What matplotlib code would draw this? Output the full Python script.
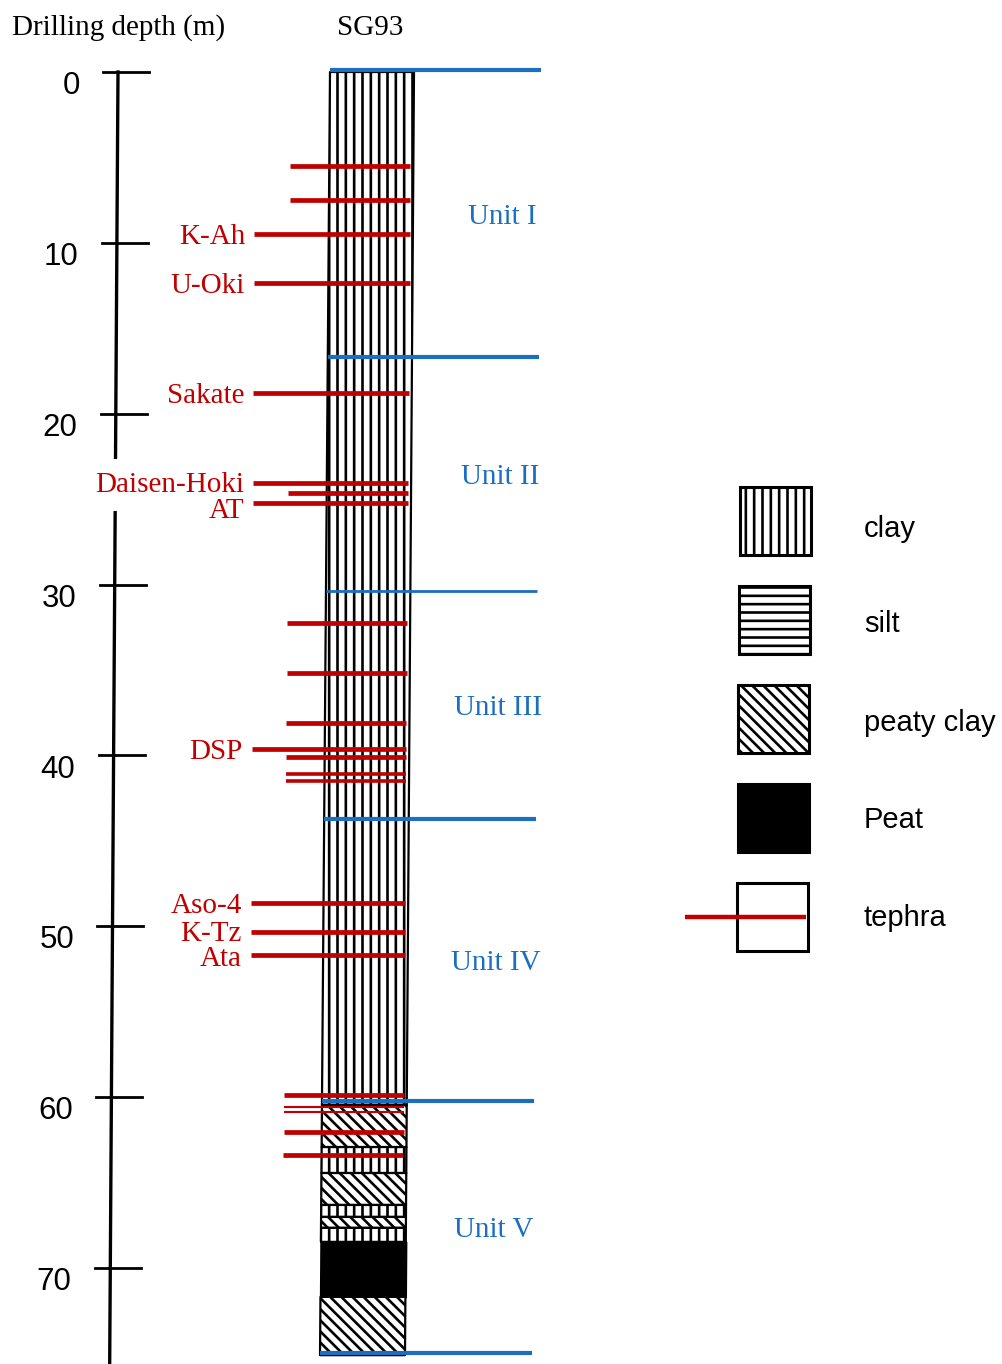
import matplotlib
matplotlib.use("Agg")
import matplotlib.pyplot as plt
from matplotlib.patches import Rectangle

# ---------------- data ----------------
depth_ticks = [0, 10, 20, 30, 40, 50, 60, 70]

lith_top = [0.0, 60.45, 62.92, 64.44, 66.31, 67.01, 67.65, 68.47, 71.69]
lith_bottom = [60.45, 62.92, 64.44, 66.31, 67.01, 67.65, 68.47, 71.69, 75.1]
lith_type = ["clay", "peaty clay", "clay", "peaty clay", "clay",
             "peaty clay", "clay", "peat", "peaty clay"]

tephra_depth = [5.50, 7.49, 9.48, 12.35, 18.79, 24.05, 24.64, 25.23, 32.25,
                35.18, 38.09, 39.61, 40.09, 41.08, 41.50, 48.64, 50.33, 51.68,
                59.87, 60.58, 60.87, 62.04, 63.39]
tephra_label = ["", "", "K-Ah", "U-Oki", "Sakate", "Daisen-Hoki", "", "AT", "",
                "", "", "DSP", "", "", "", "Aso-4", "K-Tz", "Ata",
                "", "", "", "", ""]
tephra_thin = [41.08, 41.50]
tephra_thinner = [60.58, 60.87]

unit_bounds = [-0.1, 16.7, 30.4, 43.7, 60.2, 74.97]
unit_names = ["Unit I", "Unit II", "Unit III", "Unit IV", "Unit V"]

legend_names = ["clay", "silt", "peaty clay", "Peat", "tephra"]

# ---------------- style ----------------
W, H = 1002, 1364
PX_PER_M = 17.086
Y0 = 72.0
RED = "#c00000"
BLUE = "#1a6fc0"
SERIF = ["Liberation Serif", "DejaVu Serif"]
SANS = ["Liberation Sans", "DejaVu Sans"]
FS = 21
TXT_DY = 3.0 / PX_PER_M   # small baseline correction for serif labels

plt.rcParams["hatch.linewidth"] = 1.9
plt.rcParams["hatch.color"] = "black"

HATCH = {"clay": "||", "silt": "--", "peaty clay": "\\\\\\", "peat": None}
FILL = {"clay": "white", "silt": "white", "peaty clay": "white", "peat": "black"}
LABEL_DY = {"Daisen-Hoki": -1.0, "AT": 4.5, "K-Tz": -1.0, "Ata": 1.0}


def left_x(d):
    return 330 - 0.133 * d


def right_x(d):
    return 414 - 0.12 * d


def axis_x(d):
    return 118 - 0.11 * d


fig = plt.figure(figsize=(W / 100, H / 100), dpi=100)
ax = fig.add_axes([0, 0, 1, 1])
ax.set_xlim(0, W)
ax.set_ylim((H - Y0) / PX_PER_M, -Y0 / PX_PER_M)
ax.axis("off")

# pixel overlay for header / legend
axp = fig.add_axes([0, 0, 1, 1])
axp.set_xlim(0, W)
axp.set_ylim(H, 0)
axp.axis("off")
axp.patch.set_alpha(0)

# ---------------- depth axis ----------------
y_end = (H - Y0) / PX_PER_M
ax.plot([axis_x(0), axis_x(y_end)], [0, y_end], color="black", lw=2.4, zorder=1)
for t in depth_ticks:
    ax.plot([axis_x(t) - 15, axis_x(t) + 31], [t, t], color="black", lw=2.0, zorder=1)
    ax.text(80 - 0.12 * t, t - 0.05, str(t), ha="right", va="top",
            fontsize=22.5, family=SANS, color="black")

# ---------------- column ----------------
for top, bot, kind in zip(lith_top, lith_bottom, lith_type):
    ax.fill_betweenx([top, bot], [left_x(top), left_x(bot)],
                     [right_x(top), right_x(bot)],
                     facecolor=FILL[kind], edgecolor="black",
                     hatch=HATCH[kind], linewidth=1.6, zorder=2)

# ---------------- unit boundaries ----------------
for i, b in enumerate(unit_bounds):
    lw = 2.0 if i == 2 else 3.0
    ax.plot([left_x(b), 541 - 0.12 * b], [b, b], color=BLUE, lw=lw,
            solid_capstyle="butt", zorder=5)
for i, name in enumerate(unit_names):
    mid = (unit_bounds[i] + unit_bounds[i + 1]) / 2
    ax.text(503 - 0.14 * mid, mid + TXT_DY, name, ha="center", va="center",
            fontsize=FS, family=SERIF, color=BLUE)

# ---------------- tephra ----------------
for d, lab in zip(tephra_depth, tephra_label):
    if d in tephra_thinner:
        lw = 1.5
    elif d in tephra_thin:
        lw = 2.6
    else:
        lw = 3.4
    x0 = (255 - 0.08 * d) if lab else (291 - 0.12 * d)
    ax.plot([x0, right_x(d) - 3], [d, d], color=RED, lw=lw,
            solid_capstyle="butt", zorder=4)
    if lab:
        kw = {}
        z = 3
        if lab == "Daisen-Hoki":
            kw["bbox"] = dict(boxstyle="square,pad=0.45", facecolor="white",
                              edgecolor="none")
            z = 1.5
        dy = TXT_DY + LABEL_DY.get(lab, 0.0) / PX_PER_M
        ax.text(x0 - 9, d + dy, lab, ha="right", va="center", fontsize=FS,
                family=SERIF, color=RED, zorder=z, **kw)

# ---------------- header ----------------
axp.text(12, 28, "Drilling depth (m)", ha="left", va="center", fontsize=FS,
         family=SERIF, color="black")
axp.text(337, 28, "SG93", ha="left", va="center", fontsize=FS,
         family=SERIF, color="black")

# ---------------- legend ----------------
leg_kind = ["clay", "silt", "peaty clay", "peat", None]
leg_text_dy = [42, 38, 38, 36, 35]
for i, (name, kind) in enumerate(zip(legend_names, leg_kind)):
    x = 740 - 0.8 * i
    top = 487 + 99 * i
    if kind is None:
        rect = Rectangle((x, top), 71, 68, facecolor="white", edgecolor="black",
                         linewidth=2.2, zorder=2)
        axp.add_patch(rect)
        axp.plot([685, 806], [top + 34, top + 34], color=RED, lw=3.2,
                 solid_capstyle="butt", zorder=3)
    else:
        rect = Rectangle((x, top), 71, 68, facecolor=FILL[kind], edgecolor="black",
                         hatch=HATCH[kind], linewidth=2.2, zorder=2)
        axp.add_patch(rect)
    axp.text(864, top + leg_text_dy[i], name, ha="left", va="center", fontsize=FS,
             family=SANS, color="black")

fig.savefig("out.png", dpi=100)
